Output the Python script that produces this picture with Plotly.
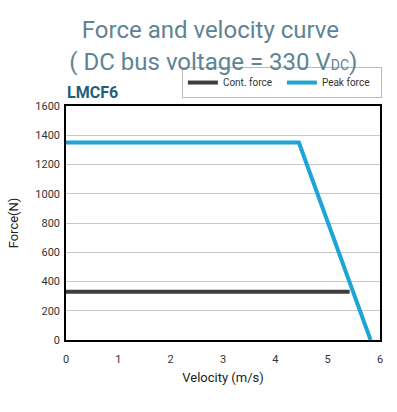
import plotly.graph_objects as go

cont_velocity = [0, 5.42]
cont_force = [330, 330]
peak_velocity = [0, 4.45, 5.82]
peak_force = [1350, 1350, 0]
x_ticks = [0, 1, 2, 3, 4, 5, 6]
y_ticks = [0, 200, 400, 600, 800, 1000, 1200, 1400, 1600]

fig = go.Figure()
fig.add_trace(go.Scatter(x=cont_velocity, y=cont_force, mode="lines", name="Cont. force",
                         line=dict(color="#3d3d3d", width=4)))
fig.add_trace(go.Scatter(x=peak_velocity, y=peak_force, mode="lines", name="Peak force",
                         line=dict(color="#1ea5d5", width=4)))

fig.update_layout(
    width=397, height=412,
    margin=dict(l=66, r=17, t=106, b=72, autoexpand=False),
    paper_bgcolor="white", plot_bgcolor="white",
    font=dict(family="Roboto, sans-serif", color="#333"),
    title=dict(text="Force and velocity curve<br> ( DC bus voltage = 330 V<span style='font-size:14px'>DC</span>)",
               x=0.53, xanchor="center", y=0.907, yanchor="top",
               font=dict(size=24, color="#5e8494", family="Roboto, sans-serif")),
    showlegend=True,
    legend=dict(orientation="h", x=1.006, xanchor="right", y=1.034, yanchor="bottom",
                bordercolor="#bbbbbb", borderwidth=1, bgcolor="white",
                font=dict(size=10, color="#333", family="Liberation Sans Narrow, Roboto, sans-serif"),
                entrywidth=54, itemwidth=30, tracegroupgap=0),
    xaxis=dict(range=[0, 6], tickvals=x_ticks, showgrid=False, zeroline=False,
               showline=True, linecolor="black", linewidth=1.5, mirror=True, automargin=False,
               ticks="", tickfont=dict(size=11, color="#333"), ticklabelstandoff=8,
               title=dict(text="Velocity (m/s)", font=dict(size=13, color="#222"), standoff=8)),
    yaxis=dict(range=[0, 1600], tickvals=y_ticks, showgrid=True, gridcolor="#c8c8c8", gridwidth=1,
               zeroline=False, showline=True, linecolor="black", linewidth=1.5, mirror=True,
               automargin=False,
               ticks="", tickfont=dict(size=11, color="#333"), ticklabelstandoff=2,
               title=dict(text="Force(N)", font=dict(size=13, color="#222"), standoff=14)),
    annotations=[dict(text="<b>LMCF6</b>", x=0, xref="paper", xanchor="left",
                      y=1.025, yref="paper", yanchor="bottom", showarrow=False,
                      xshift=-1, yshift=-4,
                      font=dict(size=16, color="#1f5f7a"))],
)

fig.write_html("out.html", config={"displayModeBar": False},
               post_script="document.body.style.margin='0';document.body.style.overflow='hidden';")
